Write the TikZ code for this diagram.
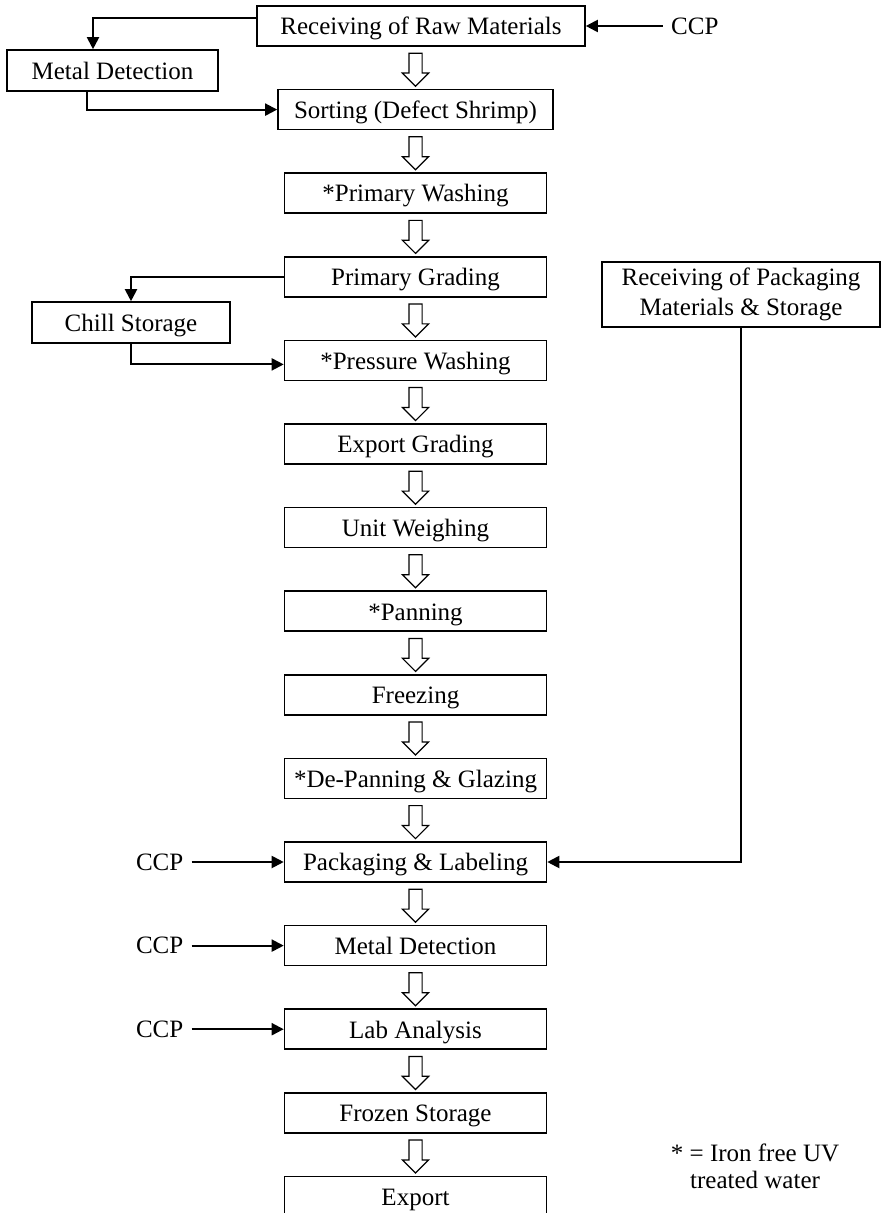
\documentclass[tikz,border=0pt]{standalone}
\usepackage{fontspec}
\setmainfont{Liberation Serif}
\usetikzlibrary{arrows.meta,positioning,shapes.arrows,calc}

\begin{document}
\begin{tikzpicture}[
  x=1pt,y=1pt,
  font=\fontsize{12.5}{15}\selectfont,
  node distance=21pt,
  box/.style={rectangle,draw,line width=0.8pt,minimum width=131pt,minimum height=20pt,inner sep=2pt,align=center},
  stage/.style={box,text height=8.8pt,text depth=0pt},
  hollow/.style={single arrow,draw,line width=0.6pt,rotate=-90,minimum height=16.5pt,inner xsep=0pt,inner ysep=3pt,single arrow head extend=3.25pt,single arrow head indent=0pt},
  line/.style={-{Triangle[length=6pt,width=6pt]},line width=1pt},
  ccp/.style={inner sep=4pt}
]
  \useasboundingbox (0,0) rectangle (442.5,-606.5);

  % main process column
  \node[stage,minimum width=164pt] (raw) at (210.5,-13) {Receiving of Raw Materials};
  \node[stage,minimum width=137.5pt,below=of raw,xshift=-2.75pt] (sort) {Sorting (Defect Shrimp)};
  \node[stage,below=of sort] (wash) {*Primary Washing};
  \node[stage,below=of wash] (grade) {Primary Grading};
  \node[stage,below=of grade] (press) {*Pressure Washing};
  \node[stage,below=of press] (expgrade) {Export Grading};
  \node[stage,below=of expgrade] (weigh) {Unit Weighing};
  \node[stage,below=of weigh] (pan) {*Panning};
  \node[stage,below=of pan] (freeze) {Freezing};
  \node[stage,below=of freeze] (depan) {*De-Panning \& Glazing};
  \node[stage,below=of depan] (pack) {Packaging \& Labeling};
  \node[stage,below=of pack] (metal) {Metal Detection};
  \node[stage,below=of metal] (lab) {Lab Analysis};
  \node[stage,below=of lab] (frozen) {Frozen Storage};
  \node[stage,below=of frozen] (export) {Export};

  % side branches
  \node[stage,minimum width=105.5pt,minimum height=20.5pt] (detect) at (56.25,-35.25) {Metal Detection};
  \node[stage,minimum width=99pt,minimum height=20.5pt] (chill) at (65.5,-161.25) {Chill Storage};
  \node[box,minimum width=139pt,minimum height=32.5pt] (pkgmat) at (370.5,-147.25) {Receiving of Packaging\\Materials \& Storage};

  % critical control points
  \node[ccp,right=38.5pt of raw] (ccpraw) {CCP};
  \node[ccp,left=46pt of pack] (ccppack) {CCP};
  \node[ccp,left=46pt of metal] (ccpmetal) {CCP};
  \node[ccp,left=46pt of lab] (ccplab) {CCP};

  \node[align=center,font=\fontsize{12.5}{13.5}\selectfont] (note) at (377.5,-583) {* = Iron free UV\\treated water};

  % hollow arrows down the column
  \foreach \a/\b in {raw/sort,sort/wash,wash/grade,grade/press,press/expgrade,expgrade/weigh,weigh/pan,pan/freeze,freeze/depan,depan/pack,pack/metal,metal/lab,lab/frozen,frozen/export}
    \node[hollow] (to-\b) at ($(\b.north)+(0,11.2)$) {};

  \draw[line] (ccpraw) -- (raw);
  \draw[line] ([yshift=4pt]raw.west) -| ([xshift=-9.75pt]detect.north);
  \draw[line] ([xshift=-12.75pt]detect.south) |- (sort.west);
  \draw[line] (grade.west) -| (chill.north);
  \draw[line] (chill.south) |- ([yshift=-2pt]press.west);
  \draw[line] (pkgmat.south) |- (pack.east);
  \draw[line] (ccppack) -- (pack);
  \draw[line] (ccpmetal) -- (metal);
  \draw[line] (ccplab) -- (lab);
\end{tikzpicture}
\end{document}
